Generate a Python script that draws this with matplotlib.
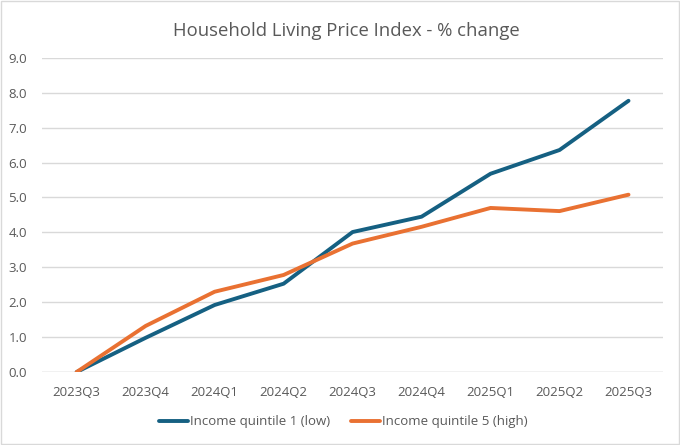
import matplotlib
matplotlib.use("Agg")
import matplotlib.pyplot as plt

quarters = ["2023Q3", "2023Q4", "2024Q1", "2024Q2", "2024Q3",
            "2024Q4", "2025Q1", "2025Q2", "2025Q3"]
quintile1_low = [0.0, 0.98, 1.92, 2.53, 4.01, 4.45, 5.68, 6.36, 7.77]
quintile5_high = [0.0, 1.32, 2.30, 2.78, 3.68, 4.16, 4.70, 4.61, 5.08]

plt.rcParams['font.family'] = ['Open Sans', 'DejaVu Sans']
grey = "#595959"

fig = plt.figure(figsize=(6.8, 4.45), dpi=100)
ax = fig.add_axes([0.062, 0.164, 0.913, 0.706])

x = range(len(quarters))
ax.plot(x, quintile1_low, color="#156082", lw=2.8,
        solid_capstyle="round", label="Income quintile 1 (low)")
ax.plot(x, quintile5_high, color="#E97132", lw=2.8,
        solid_capstyle="round", label="Income quintile 5 (high)")

ax.set_xlim(-0.5, len(quarters) - 0.5)
ax.set_ylim(0, 9)
ax.set_yticks(range(0, 10))
ax.set_yticklabels(["{:.1f}".format(v) for v in range(0, 10)])
ax.set_xticks(list(x))
ax.set_xticklabels(quarters)
ax.tick_params(axis="both", length=0, colors=grey, labelsize=9.5)
ax.tick_params(axis="x", pad=10)
ax.tick_params(axis="y", pad=11)
ax.grid(axis="y", color="#D9D9D9", lw=1)
ax.set_axisbelow(True)
for s in ax.spines.values():
    s.set_visible(False)
ax.axhline(0, color="#D9D9D9", lw=1, zorder=0)

fig.text(0.51, 0.93, "Household Living Price Index - % change",
         ha="center", va="center", fontsize=13.3, color=grey)

fig.legend(loc="center", bbox_to_anchor=(0.505, 0.052), ncol=2, frameon=False,
           fontsize=9.5, labelcolor=grey, handlelength=2.2, handletextpad=0.15,
           columnspacing=1.6)

fig.patches.append(plt.Rectangle((0.002, 0.002), 0.996, 0.996,
                                 transform=fig.transFigure, fill=False,
                                 edgecolor="#D9D9D9", lw=1))

fig.savefig("out.png", dpi=100)
